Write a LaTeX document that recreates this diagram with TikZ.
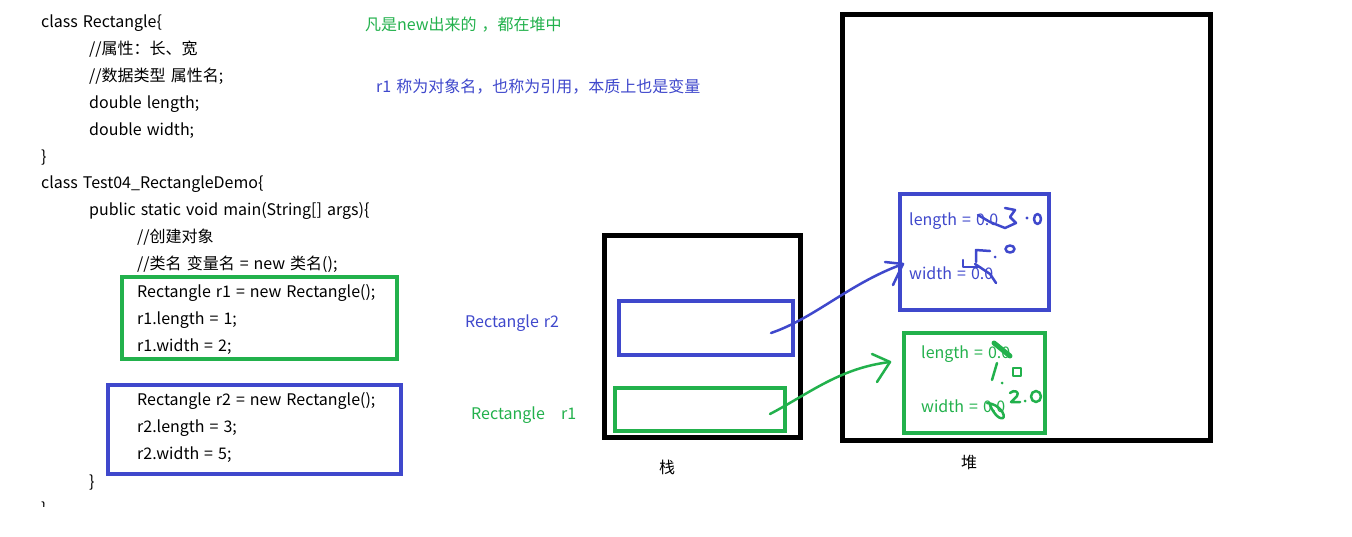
\documentclass[tikz,border=0pt]{standalone}
\usepackage{fontspec}
\newfontfamily\cjk[WordSpace=1.4]{Noto Sans CJK SC}
\definecolor{pgreen}{RGB}{34,177,76}
\definecolor{pblue}{RGB}{63,72,204}
\tikzset{
  txt/.style={anchor=base west, inner sep=0pt, font=\cjk\fontsize{16}{16}\selectfont},
  box/.style={draw, inner sep=0pt, line width=#1},
  box/.default=4pt,
  scrib/.style={line width=2.5pt, line cap=round, line join=round},
}
\begin{document}
\begin{tikzpicture}[x=1pt,y=-1pt]
\useasboundingbox[fill=white] (0,0) rectangle (1352,536);
% code
\node[txt] (c1) at (41,27) {class Rectangle\{};
\node[txt] (c2) at (89,54) {//属性：长、宽};
\node[txt] (c3) at (89,81) {//数据类型 属性名;};
\node[txt] (c4) at (89,108) {double length;};
\node[txt] (c5) at (89,135) {double width;};
\node[txt] (c6) at (41,162) {\}};
\node[txt] (c7) at (41,188) {class Test04\_RectangleDemo\{};
\node[txt] (c8) at (89,215) {public static void main(String[] args)\{};
\node[txt] (c9) at (137,242) {//创建对象};
\node[txt] (c10) at (137,269) {//类名 变量名 = new 类名();};
\node[txt] (c11) at (137,297) {Rectangle r1 = new Rectangle();};
\node[txt] (c12) at (137,324) {r1.length = 1;};
\node[txt] (c13) at (137,351) {r1.width = 2;};
\node[txt] (c14) at (137,405) {Rectangle r2 = new Rectangle();};
\node[txt] (c15) at (137,432) {r2.length = 3;};
\node[txt] (c16) at (137,459) {r2.width = 5;};
\node[txt] (c17) at (89,487) {\}};
\begin{scope}
\clip (0,0) rectangle (1352,506);
\node[txt] (c18) at (41,514) {\}};
\end{scope}
% code boxes
\node[box, draw=pgreen, minimum width=275pt, minimum height=82pt] (cg) at (259.7,317.5) {};
\node[box, draw=pblue, minimum width=292.7pt, minimum height=88.7pt] (cb) at (254.3,429.7) {};
% notes
\node[txt, text=pgreen] (n1) at (365,30) {凡是new出来的 ，都在堆中};
\node[txt, text=pblue] (n2) at (376,92) {r1 称为对象名，也称为引用，本质上也是变量};
\node[txt, text=pblue] (lr2) at (465,327) {Rectangle r2};
\node[txt, text=pgreen] (lr1) at (471,419) {Rectangle};
\node[txt, text=pgreen] (lr1b) at (561,419) {r1};
% stack
\node[box=5pt, minimum width=196pt, minimum height=202pt] (stack) at (702.5,336.5) {};
\node[box, draw=pblue, minimum width=174pt, minimum height=54pt] (sb) at (706,328) {};
\node[box, draw=pgreen, minimum width=170pt, minimum height=43pt] (sg) at (700,409.5) {};
\node[txt] (zhan) at (659,473) {栈};
% heap
\node[box=5pt, minimum width=368pt, minimum height=426pt] (heap) at (1026.5,227.5) {};
\node[box, draw=pblue, minimum width=149pt, minimum height=116pt] (hb) at (974.5,252) {};
\node[box, draw=pgreen, minimum width=141pt, minimum height=100pt] (hg) at (974.5,383) {};
\node[txt] (dui) at (961,468) {堆};
\node[txt, text=pblue] (hb1) at (909,225) {length = 0.0};
\node[txt, text=pblue] (hb2) at (909,279) {width = 0.0};
\node[txt, text=pgreen] (hg1) at (921,358) {length = 0.0};
\node[txt, text=pgreen] (hg2) at (921,412) {width = 0.0};
% arrows
\coordinate (b1) at (771,333);
\coordinate (b2) at (903,264);
\draw[scrib, pblue] (b1) .. controls (815,318) and (850,283) .. (b2);
\draw[scrib, pblue] (885,262) -- (b2) -- (893,285);
\coordinate (g1) at (770,414);
\coordinate (g2) at (890,362);
\draw[scrib, pgreen] (g1) .. controls (810,393) and (840,368) .. (g2);
\draw[scrib, pgreen] (872,354) -- (g2) -- (877,382);
% blue scribbles
\draw[scrib, pblue] (978,215) -- (990,222) -- (1005,228) -- (1016,223) -- (1010,217) -- (1015,210) -- (1005,208);
\fill[pblue] (1027,218) circle (1.6pt);
\draw[scrib, pblue] (1037.5,219) ellipse (3.5pt and 5pt);
\draw[scrib, pblue] (990,251) -- (976,250) -- (976,262);
\draw[scrib, pblue] (963,260) -- (963,267) -- (980,267);
\draw[scrib, pblue] (975,264) -- (990,274) -- (996,283);
\fill[pblue] (995,257) circle (1.5pt);
\draw[scrib, pblue] (1010,249) ellipse (4.5pt and 3.5pt);
% green scribbles
\draw[line width=5pt, line cap=round, pgreen] (994,343) -- (1010,356);
\draw[scrib, pgreen] (997,363) -- (992,380);
\fill[pgreen] (1002,383) circle (1.5pt);
\draw[scrib, pgreen] (1013,368) rectangle (1021,376);
\draw[scrib, pgreen] (1010,393) .. controls (1014,389) and (1020,392) .. (1017,396) -- (1011,402) -- (1020,402);
\fill[pgreen] (1025,401) circle (1.5pt);
\draw[scrib, pgreen] (1036,396.5) ellipse (5pt and 5.5pt);
\draw[scrib, pgreen] (987,403) .. controls (1000,404) and (1006,416) .. (1003,418) .. controls (998,420) and (992,410) .. (990,405);
\end{tikzpicture}
\end{document}
